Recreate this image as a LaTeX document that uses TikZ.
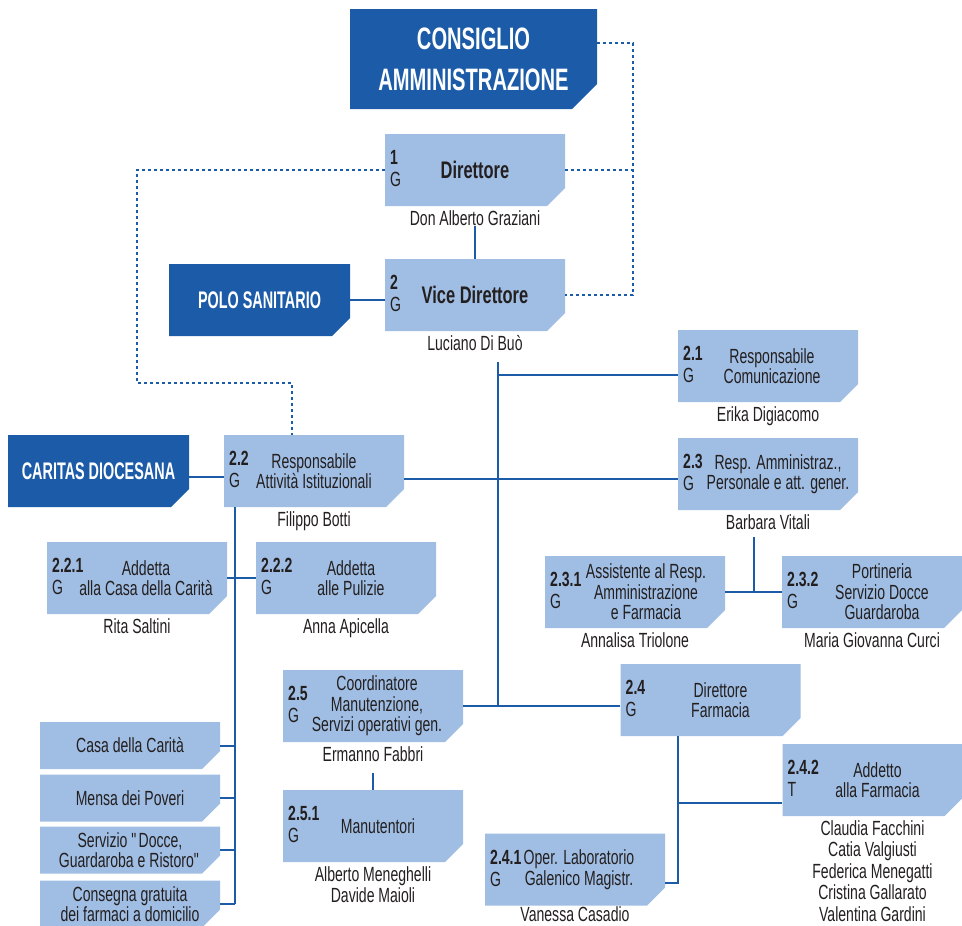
\documentclass[tikz,border=0pt]{standalone}
\usepackage{fontspec}
\setmainfont{Liberation Sans}[FakeStretch=0.685]
\newfontfamily\titolo{Liberation Sans}[FakeStretch=0.6]
\newfontfamily\titologrande{Liberation Sans}[FakeStretch=0.65]
\usetikzlibrary{calc}
\definecolor{scuro}{HTML}{1C5BA8}
\definecolor{chiaro}{HTML}{A0BEE3}
\definecolor{testo}{HTML}{231F20}
\tikzset{
  angolo/.store in=\angolo, angolo=18pt,
  colore/.store in=\colore, colore=chiaro,
  cassa/.style={rectangle, fill=white, draw=none, inner sep=0pt,
    minimum width=180pt, minimum height=72pt,
    path picture={\fill [\colore] (path picture bounding box.north west)
      -- (path picture bounding box.north east)
      -- ([yshift=\angolo]path picture bounding box.south east)
      -- ([xshift=-\angolo]path picture bounding box.south east)
      -- (path picture bounding box.south west) -- cycle;}},
  elenco/.style={cassa, minimum height=47pt, align=center, text=testo,
    font=\fontsize{20.5}{20.5}\selectfont},
  scura/.style={cassa, colore=scuro, text=white, align=center},
  codice/.style={anchor=north west, align=left, inner sep=0pt, text=testo,
    font=\fontsize{20.5}{22}\selectfont},
  ruolo/.style={align=center, inner sep=0pt, text=testo,
    font=\fontsize{20.5}{20.5}\selectfont},
  capo/.style={align=center, inner sep=0pt, text=testo,
    font=\bfseries\fontsize{24}{25}\selectfont},
  nome/.style={anchor=north, yshift=-4pt, align=center, inner sep=0pt, text=testo,
    font=\fontsize{20.5}{21.5}\selectfont},
  linea/.style={draw=scuro, line width=2pt},
  punti/.style={draw=scuro, line width=1.6pt, dash pattern=on 3pt off 3pt}
}
\begin{document}
\begin{tikzpicture}[x=1pt,y=-1pt]
  \useasboundingbox (0,0) rectangle (962,926);
  % vertice
  \node [scura, minimum width=247pt, minimum height=100pt, angolo=25pt,
    font=\titologrande\bfseries\fontsize{31}{41}\selectfont] (consiglio) at (473.5,59) {CONSIGLIO\\AMMINISTRAZIONE};
  \node [cassa] (dir) at (475,170) {};
  \node [codice] (dir-c) at ([shift={(-85,-20)}]dir.center) {\textbf{1}\\G};
  \node [capo] (dir-t) at (dir.center) {Direttore};
  \node [nome] (dir-n) at (dir.south) {Don Alberto Graziani};
  \node [cassa] (vice) at (475,295) {};
  \node [codice] (vice-c) at ([shift={(-85,-20)}]vice.center) {\textbf{2}\\G};
  \node [capo] (vice-t) at (vice.center) {Vice Direttore};
  \node [nome] (vice-n) at (vice.south) {Luciano Di Buò};
  \node [scura, minimum width=181pt, font=\titolo\bfseries\fontsize{24}{26}\selectfont] (polo) at (259.5,300) {POLO SANITARIO};
  \node [scura, minimum width=181pt, font=\titolo\bfseries\fontsize{24}{26}\selectfont] (caritas) at (98.5,471) {CARITAS DIOCESANA};
  % uffici
  \node [cassa] (r21) at (768,366) {};
  \node [codice] (r21-c) at ([shift={(-85,-20)}]r21.center) {\textbf{2.1}\\G};
  \node [ruolo] (r21-t) at ([xshift=4pt]r21.center) {Responsabile\\Comunicazione};
  \node [nome] (r21-n) at (r21.south) {Erika Digiacomo};
  \node [cassa] (r22) at (314,471) {};
  \node [codice] (r22-c) at ([shift={(-85,-20)}]r22.center) {\textbf{2.2}\\G};
  \node [ruolo] (r22-t) at (r22.center) {Responsabile\\Attività Istituzionali};
  \node [nome] (r22-n) at (r22.south) {Filippo Botti};
  \node [cassa] (r23) at (768,474) {};
  \node [codice] (r23-c) at ([shift={(-85,-20)}]r23.center) {\textbf{2.3}\\G};
  \node [ruolo] (r23-t) at ([xshift=10pt]r23.center) {Resp. Amministraz.,\\Personale e att. gener.};
  \node [nome] (r23-n) at (r23.south) {Barbara Vitali};
  \node [cassa] (r221) at (137,578) {};
  \node [codice] (r221-c) at ([shift={(-85,-20)}]r221.center) {\textbf{2.2.1}\\G};
  \node [ruolo] (r221-t) at ([xshift=9pt]r221.center) {Addetta\\alla Casa della Carità};
  \node [nome] (r221-n) at (r221.south) {Rita Saltini};
  \node [cassa] (r222) at (346,578) {};
  \node [codice] (r222-c) at ([shift={(-85,-20)}]r222.center) {\textbf{2.2.2}\\G};
  \node [ruolo] (r222-t) at ([xshift=5pt]r222.center) {Addetta\\alle Pulizie};
  \node [nome] (r222-n) at (r222.south) {Anna Apicella};
  \node [cassa] (r231) at (635,592) {};
  \node [codice] (r231-c) at ([shift={(-85,-20)}]r231.center) {\textbf{2.3.1}\\G};
  \node [ruolo] (r231-t) at ([xshift=11pt]r231.center) {Assistente al Resp.\\Amministrazione\\e Farmacia};
  \node [nome] (r231-n) at (r231.south) {Annalisa Triolone};
  \node [cassa] (r232) at (872,592) {};
  \node [codice] (r232-c) at ([shift={(-85,-20)}]r232.center) {\textbf{2.3.2}\\G};
  \node [ruolo] (r232-t) at ([xshift=10pt]r232.center) {Portineria\\Servizio Docce\\Guardaroba};
  \node [nome] (r232-n) at (r232.south) {Maria Giovanna Curci};
  \node [cassa] (r24) at (710.5,700) {};
  \node [codice] (r24-c) at ([shift={(-85,-20)}]r24.center) {\textbf{2.4}\\G};
  \node [ruolo] (r24-t) at ([xshift=10pt]r24.center) {Direttore\\Farmacia};
  \node [cassa] (r25) at (373,706) {};
  \node [codice] (r25-c) at ([shift={(-85,-20)}]r25.center) {\textbf{2.5}\\G};
  \node [ruolo] (r25-t) at ([xshift=4pt]r25.center) {Coordinatore\\Manutenzione,\\Servizi operativi gen.};
  \node [nome] (r25-n) at (r25.south) {Ermanno Fabbri};
  \node [cassa] (r251) at (373,826) {};
  \node [codice] (r251-c) at ([shift={(-85,-20)}]r251.center) {\textbf{2.5.1}\\G};
  \node [ruolo] (r251-t) at ([xshift=5pt]r251.center) {Manutentori};
  \node [nome] (r251-n) at (r251.south) {Alberto Meneghelli\\Davide Maioli};
  \node [cassa] (r242) at (872.5,780) {};
  \node [codice] (r242-c) at ([shift={(-85,-20)}]r242.center) {\textbf{2.4.2}\\T};
  \node [ruolo] (r242-t) at ([xshift=5pt]r242.center) {Addetto\\alla Farmacia};
  \node [nome] (r242-n) at (r242.south) {Claudia Facchini\\Catia Valgiusti\\Federica Menegatti\\Cristina Gallarato\\Valentina Gardini};
  \node [cassa] (r241) at (575,869.5) {};
  \node [codice] (r241-c) at ([shift={(-85,-20)}]r241.center) {\textbf{2.4.1}\\G};
  \node [ruolo] (r241-t) at ([xshift=4pt]r241.center) {Oper. Laboratorio\\Galenico Magistr.};
  \node [nome, yshift=3pt] (r241-n) at (r241.south) {Vanessa Casadio};
  % servizi caritas
  \node [elenco] (casa) at (130,745.5) {Casa della Carità};
  \node [elenco] (mensa) at (130,798) {Mensa dei Poveri};
  \node [elenco] (servizio) at (130,850) {Servizio \textquotedbl Docce,\\Guardaroba e Ristoro\textquotedbl};
  \node [elenco] (consegna) at (130,904) {Consegna gratuita\\dei farmaci a domicilio};
  % collegamenti
  \draw [linea] (dir-n.south) -- (dir-n.south |- vice.north);
  \draw [linea] (polo.east) -- (polo.east -| vice.west);
  \coordinate (tronco) at (498,362);
  \draw [linea] (tronco) -- (tronco |- r25.east);
  \draw [linea] ([yshift=-9pt]r21.west) -- ([yshift=-9pt]r21.west -| tronco);
  \draw [linea] (r25.east) -- (r25.east -| r24.west);
  \draw [linea] ([yshift=-6pt]caritas.east) -- ([yshift=-6pt]caritas.east -| r22.west);
  \draw [linea] ([yshift=-8pt]r22.east) -- ([yshift=-8pt]r22.east -| r23.west);
  \coordinate (asse) at ([xshift=-79pt]r22.south);
  \draw [linea] (asse) -- (asse |- consegna.east);
  \draw [linea] (r221.east) -- (r222.west);
  \foreach \s in {casa,mensa,servizio,consegna}
    \draw [linea] (\s.east) -- (\s.east -| asse);
  \draw [linea] ($(r231.east)!.5!(r232.west)$) -- ++(0,-55);
  \draw [linea] (r231.east) -- (r232.west);
  \draw [linea] (r251.north) -- ++(0,-17);
  \coordinate (asse24) at ([xshift=-32.5pt]r24.south);
  \draw [linea] (asse24) |- ([yshift=-13pt]r241.east);
  \draw [linea] ([yshift=-23pt]r242.west) -- ([yshift=-23pt]r242.west -| asse24);
  % linee funzionali
  \draw [punti] ([yshift=16pt]consiglio.east) -- ++(36,0) |- (vice.east);
  \draw [punti] (dir.east) -- ++(68,0);
  \draw [punti] (dir.west) -- ++(-248,0) -- ++(0,213) -| ([xshift=-22pt]r22.north);
\end{tikzpicture}
\end{document}
